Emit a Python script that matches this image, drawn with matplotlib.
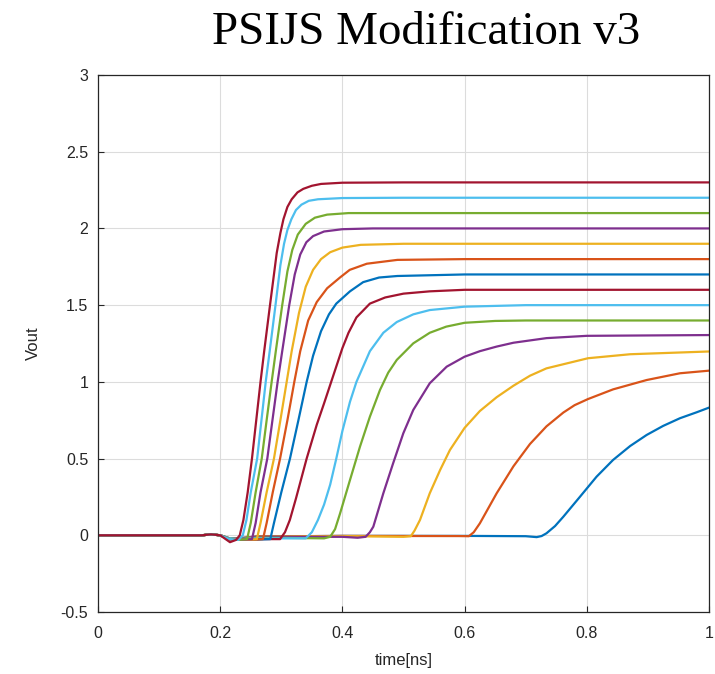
import matplotlib
matplotlib.use('Agg')
import matplotlib.pyplot as plt

# MATLAB default line colours, cycled over the 14 traces
colors = ['#0072BD', '#D95319', '#EDB120', '#7E2F8E', '#77AC30', '#4DBEEE', '#A2142F']

# ===== traces (time in ns, Vout in V)
t1 = [0, 0.17, 0.185, 0.2, 0.215, 0.23, 0.26, 0.4, 0.6, 0.7, 0.718, 0.726, 0.734, 0.748, 0.7616,
      0.789, 0.816, 0.843, 0.871, 0.898, 0.925, 0.9525, 0.98, 1.0]
v1 = [0, 0, 0.006, 0.0, -0.02, -0.02, -0.008, -0.004, -0.004, -0.006, -0.012, -0.005, 0.013, 0.06, 0.121,
      0.252, 0.382, 0.491, 0.582, 0.654, 0.713, 0.763, 0.802, 0.832]

t2 = [0, 0.17, 0.185, 0.2, 0.215, 0.23, 0.26, 0.4, 0.59, 0.607, 0.615, 0.625, 0.6525, 0.68, 0.707,
      0.734, 0.7616, 0.78, 0.802, 0.843, 0.898, 0.9525, 1.0]
v2 = [0, 0, 0.006, 0.0, -0.02, -0.02, -0.008, -0.004, -0.005, -0.006, 0.02, 0.078, 0.274, 0.45, 0.595,
      0.71, 0.8, 0.848, 0.888, 0.951, 1.012, 1.056, 1.073]

t3 = [0, 0.17, 0.185, 0.2, 0.215, 0.23, 0.26, 0.4, 0.5, 0.512, 0.518, 0.527, 0.543, 0.56, 0.576,
      0.6, 0.625, 0.6525, 0.68, 0.707, 0.734, 0.802, 0.871, 1.0]
v3 = [0, 0, 0.006, 0.0, -0.02, -0.022, -0.01, -0.005, -0.01, -0.006, 0.03, 0.1, 0.274, 0.426, 0.556,
      0.7, 0.81, 0.9, 0.975, 1.04, 1.088, 1.154, 1.18, 1.198]

t4 = [0, 0.17, 0.185, 0.2, 0.215, 0.23, 0.26, 0.4, 0.425, 0.438, 0.445, 0.4506, 0.467, 0.483,
      0.4997, 0.516, 0.543, 0.5707, 0.6, 0.625, 0.6525, 0.68, 0.734, 0.8, 1.0]
v4 = [0, 0, 0.006, 0.0, -0.02, -0.022, -0.01, -0.01, -0.016, -0.01, 0.02, 0.056, 0.274, 0.469,
      0.665, 0.817, 0.991, 1.099, 1.164, 1.2, 1.23, 1.255, 1.285, 1.3, 1.305]

t5 = [0, 0.17, 0.185, 0.2, 0.215, 0.23, 0.26, 0.37, 0.38, 0.388, 0.396, 0.4124, 0.4288, 0.445,
      0.4615, 0.475, 0.489, 0.516, 0.543, 0.57, 0.6, 0.65, 0.7, 1.0]
v5 = [0, 0, 0.006, 0.0, -0.02, -0.025, -0.015, -0.02, -0.01, 0.04, 0.14, 0.36, 0.578, 0.773,
      0.947, 1.06, 1.143, 1.251, 1.32, 1.36, 1.385, 1.397, 1.4, 1.4]

t6 = [0, 0.17, 0.185, 0.2, 0.215, 0.23, 0.26, 0.34, 0.35, 0.36, 0.37, 0.38, 0.39, 0.4, 0.4124,
      0.423, 0.445, 0.467, 0.489, 0.516, 0.543, 0.6, 0.7, 1.0]
v6 = [0, 0, 0.006, 0.0, -0.02, -0.025, -0.02, -0.02, 0.02, 0.1, 0.2, 0.33, 0.5, 0.68, 0.87,
      1.0, 1.2, 1.32, 1.39, 1.44, 1.468, 1.49, 1.5, 1.5]

t7 = [0, 0.17, 0.185, 0.2, 0.215, 0.23, 0.26, 0.298, 0.306, 0.314, 0.324, 0.3415, 0.358, 0.37,
      0.38, 0.39, 0.4, 0.41, 0.423, 0.445, 0.47, 0.5, 0.543, 0.6, 1.0]
v7 = [0, 0, 0.006, 0.0, -0.025, -0.03, -0.025, -0.025, 0.02, 0.1, 0.24, 0.5, 0.72, 0.86,
      0.98, 1.1, 1.22, 1.32, 1.42, 1.51, 1.55, 1.575, 1.59, 1.6, 1.6]

t8 = [0, 0.17, 0.185, 0.2, 0.215, 0.23, 0.26, 0.282, 0.288, 0.3, 0.3142, 0.328, 0.3415, 0.352,
      0.365, 0.378, 0.39, 0.4124, 0.434, 0.46, 0.49, 0.6, 1.0]
v8 = [0, 0, 0.006, 0.0, -0.025, -0.03, -0.028, -0.025, 0.08, 0.28, 0.5, 0.75, 1.0, 1.17,
      1.33, 1.44, 1.51, 1.59, 1.65, 1.68, 1.69, 1.7, 1.7]

t9 = [0, 0.17, 0.185, 0.2, 0.215, 0.23, 0.26, 0.27, 0.276, 0.286, 0.298, 0.31, 0.3213, 0.331,
      0.344, 0.358, 0.375, 0.396, 0.412, 0.44, 0.49, 0.6, 1.0]
v9 = [0, 0, 0.006, 0.0, -0.025, -0.03, -0.028, -0.025, 0.08, 0.28, 0.5, 0.75, 1.0, 1.2,
      1.4, 1.52, 1.61, 1.68, 1.73, 1.77, 1.795, 1.8, 1.8]

t10 = [0, 0.17, 0.185, 0.2, 0.215, 0.23, 0.26, 0.266, 0.276, 0.288, 0.2985, 0.3088, 0.317, 0.329,
       0.34, 0.352, 0.365, 0.38, 0.4, 0.43, 0.5, 1.0]
v10 = [0, 0, 0.006, 0.0, -0.025, -0.03, -0.025, 0.08, 0.28, 0.5, 0.75, 1.0, 1.2, 1.45,
       1.62, 1.73, 1.8, 1.845, 1.875, 1.893, 1.9, 1.9]

t11 = [0, 0.17, 0.185, 0.2, 0.215, 0.23, 0.252, 0.258, 0.266, 0.2771, 0.2855, 0.294, 0.3015, 0.313,
       0.322, 0.331, 0.341, 0.352, 0.37, 0.4, 0.45, 1.0]
v11 = [0, 0, 0.006, 0.0, -0.025, -0.03, -0.025, 0.08, 0.28, 0.5, 0.75, 1.0, 1.2, 1.5,
       1.7, 1.83, 1.91, 1.95, 1.98, 1.995, 2.0, 2.0]

t12 = [0, 0.17, 0.185, 0.2, 0.215, 0.23, 0.244, 0.25, 0.258, 0.268, 0.276, 0.2842, 0.291, 0.3015,
       0.31, 0.318, 0.327, 0.34, 0.355, 0.375, 0.41, 1.0]
v12 = [0, 0, 0.006, 0.0, -0.025, -0.03, -0.025, 0.08, 0.28, 0.5, 0.75, 1.0, 1.2, 1.5,
       1.72, 1.86, 1.96, 2.03, 2.07, 2.09, 2.1, 2.1]

t13 = [0, 0.17, 0.185, 0.2, 0.215, 0.23, 0.237, 0.243, 0.25, 0.2605, 0.2675, 0.2745, 0.281, 0.2905,
       0.2985, 0.3045, 0.31, 0.3165, 0.324, 0.333, 0.345, 0.36, 0.4, 0.5, 1.0]
v13 = [0, 0, 0.006, 0.0, -0.025, -0.03, 0.0, 0.1, 0.28, 0.5, 0.75, 1.0, 1.2, 1.5,
       1.76, 1.9, 1.99, 2.06, 2.12, 2.155, 2.18, 2.19, 2.198, 2.2, 2.2]

t14 = [0, 0.17, 0.185, 0.2, 0.216, 0.226, 0.232, 0.238, 0.245, 0.252, 0.259, 0.266, 0.272, 0.2815,
       0.2925, 0.2985, 0.3035, 0.31, 0.317, 0.3265, 0.336, 0.35, 0.365, 0.4, 0.5, 1.0]
v14 = [0, 0, 0.006, 0.0, -0.045, -0.03, 0.0, 0.1, 0.28, 0.5, 0.75, 1.0, 1.2, 1.5,
       1.84, 1.97, 2.06, 2.14, 2.19, 2.235, 2.258, 2.278, 2.29, 2.298, 2.3, 2.3]

traces = [(t1, v1), (t2, v2), (t3, v3), (t4, v4), (t5, v5), (t6, v6), (t7, v7),
          (t8, v8), (t9, v9), (t10, v10), (t11, v11), (t12, v12), (t13, v13), (t14, v14)]

xticks = [0, 0.2, 0.4, 0.6, 0.8, 1]
xticklabels = ['0', '0.2', '0.4', '0.6', '0.8', '1']
yticks = [-0.5, 0, 0.5, 1, 1.5, 2, 2.5, 3]
yticklabels = ['-0.5', '0', '0.5', '1', '1.5', '2', '2.5', '3']

plt.rcParams['font.family'] = ['Liberation Sans', 'DejaVu Sans']

fig = plt.figure(figsize=(7.15, 6.74), dpi=100)
ax = fig.add_axes([98 / 715, 62 / 674, 611 / 715, 537 / 674])

for i, (t, v) in enumerate(traces):
    ax.plot(t, v, color=colors[i % 7], lw=1.6, solid_joinstyle='round')

ax.set_xlim(0, 1)
ax.set_ylim(-0.5, 3)
ax.set_xticks(xticks)
ax.set_xticklabels(xticklabels)
ax.set_yticks(yticks)
ax.set_yticklabels(yticklabels)
ax.grid(True, color='#dcdcdc', lw=0.8)
ax.set_axisbelow(True)
ax.tick_params(direction='in', length=4, labelsize=11.5, colors='#262626')
ax.tick_params(axis='x', pad=10)
ax.tick_params(axis='y', pad=7)
for s in ax.spines.values():
    s.set_color('#262626')
    s.set_linewidth(0.9)

ax.set_xlabel('time[ns]', fontsize=12, color='#262626', labelpad=9)
ax.set_ylabel('Vout', fontsize=12, color='#262626', labelpad=14)

fig.text(0.596, 0.951, 'PSIJS Modification v3', ha='center', va='center',
         fontsize=33.8, family=['Liberation Serif', 'DejaVu Serif'])

fig.savefig('out.png', dpi=100)
